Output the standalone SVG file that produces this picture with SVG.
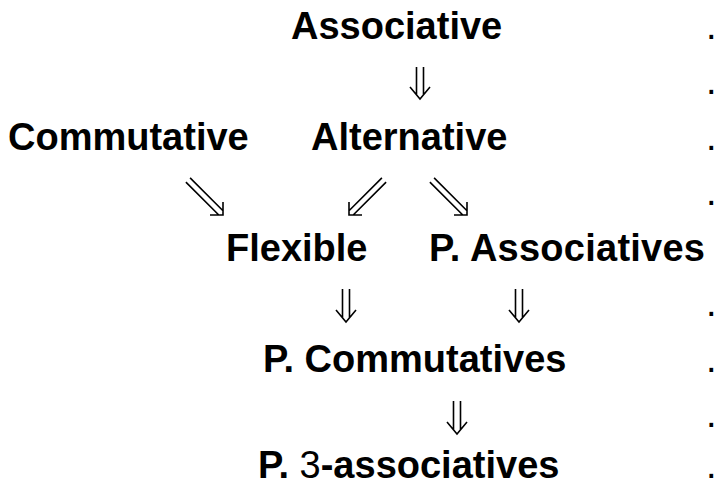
<svg xmlns="http://www.w3.org/2000/svg" width="716" height="486" viewBox="0 0 716 486">
<style>
.t{font-family:"Liberation Sans",Arial,Helvetica,sans-serif;font-size:38px;font-weight:bold;fill:#000}
.r{font-weight:normal}
.d{font-family:"Liberation Sans",Arial,Helvetica,sans-serif;font-size:38px;fill:#000}
.a{fill:none;stroke:#000;stroke-width:1.6;stroke-linecap:butt;stroke-linejoin:miter}
</style>
<rect width="716" height="486" fill="#fff"/>
<g id="associative"><text class="t" x="291" y="38.5">Associative</text></g>
<g id="commutative"><text class="t" x="8" y="149.5">Commutative</text></g>
<g id="alternative"><text class="t" x="311" y="149.5">Alternative</text></g>
<g id="flexible"><text class="t" x="226" y="260.5">Flexible</text></g>
<g id="p-associatives"><text class="t" x="429" y="260.5" textLength="276">P. Associatives</text></g>
<g id="p-commutatives"><text class="t" x="263" y="371.5">P. Commutatives</text></g>
<g id="p-3-associatives"><text class="t" x="258" y="478">P. <tspan class="r">3</tspan>-associatives</text></g>
<g id="connectors" class="a">
<path d="M416.5,67V94.8M423.5,67V94.8M410,87L420,99L430,87"/>
<path d="M190.1,177.9L223,210.8M185.9,182.1L218.8,215M210,215H223V202"/>
<path d="M386.1,182.1L353.2,215M381.9,177.9L349,210.8M362,215H349V202"/>
<path d="M434.1,177.9L467,210.8M429.9,182.1L462.8,215M454,215H467V202"/>
<path d="M342.5,289V317.8M349.5,289V317.8M336,310L346,322L356,310"/>
<path d="M515.5,289V317.8M522.5,289V317.8M509,310L519,322L529,310"/>
<path d="M453.5,401V429.8M460.5,401V429.8M447,422L457,434L467,422"/>
</g>
<g id="dots" class="d">
<text x="706" y="38.5">.</text>
<text x="706" y="94">.</text>
<text x="706" y="149.5">.</text>
<text x="706" y="205">.</text>
<text x="706" y="316">.</text>
<text x="706" y="371.5">.</text>
<text x="706" y="427">.</text>
<text x="706" y="478">.</text>
</g>
</svg>
